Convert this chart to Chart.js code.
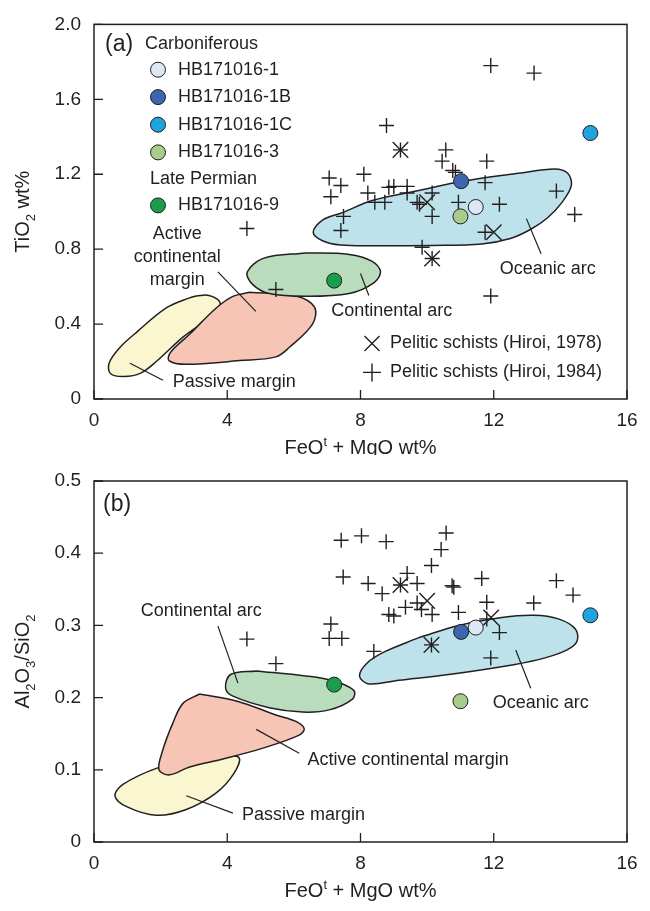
<!DOCTYPE html>
<html>
<head>
<meta charset="utf-8">
<script src="https://cdn.jsdelivr.net/npm/chart.js@4/dist/chart.umd.min.js"></script>
<style>
html, body { margin: 0; padding: 0; background: #fff; }
#wrapA { position: absolute; left: 0; top: 0; width: 650px; height: 455px; }
#wrapB { position: absolute; left: 0; top: 455px; width: 650px; height: 456px; }
</style>
</head>
<body>
<div id="wrapA"><canvas id="chartA"></canvas></div>
<div id="wrapB"><canvas id="chartB"></canvas></div>
<script>
// ---- data ----
var xTicks = [0, 4, 8, 12, 16];
var yTicksA = [0, 0.4, 0.8, 1.2, 1.6, 2.0];
var yTicksB = [0, 0.1, 0.2, 0.3, 0.4, 0.5];

var sampleNames = ['HB171016-1', 'HB171016-1B', 'HB171016-1C', 'HB171016-3', 'HB171016-9'];
var samplePeriods = ['Carboniferous', 'Carboniferous', 'Carboniferous', 'Carboniferous', 'Late Permian'];
var sampleColors = ['#dce8f4', '#3d66b0', '#1fa4dd', '#a7cc8c', '#1b9e4b'];
var sampleFeoMgo = [11.46, 11.02, 14.9, 11.0, 7.21];
var sampleTiO2 = [1.025, 1.163, 1.42, 0.975, 0.632];
var sampleAlSi = [0.297, 0.291, 0.314, 0.195, 0.218];

// Pelitic schists (Hiroi, 1978)
var hiroi1978A = [[9.2, 1.33], [10.0, 1.05], [12.0, 0.89], [10.15, 0.75]];
var hiroi1978B = [[9.2, 0.356], [10.0, 0.334], [11.92, 0.311], [10.13, 0.273]];

// Pelitic schists (Hiroi, 1984)
var hiroi1984A = [
  [11.91, 1.78], [13.21, 1.74], [8.78, 1.46], [9.2, 1.33], [10.56, 1.33], [10.45, 1.27],
  [11.79, 1.27], [10.77, 1.22], [10.85, 1.21], [7.06, 1.18], [7.41, 1.14], [8.1, 1.2],
  [7.11, 1.08], [8.22, 1.1], [8.85, 1.13], [9.0, 1.135], [9.4, 1.135], [9.4, 1.1],
  [8.43, 1.05], [8.73, 1.05], [11.74, 1.155], [13.88, 1.11], [10.15, 1.1], [9.7, 1.05],
  [9.77, 1.04], [10.94, 1.05], [12.17, 1.04], [7.49, 0.975], [7.41, 0.9], [10.15, 0.975],
  [14.43, 0.985], [11.74, 0.89], [9.85, 0.81], [10.15, 0.75], [4.59, 0.91], [5.46, 0.585],
  [11.91, 0.55]
];
var hiroi1984B = [
  [7.42, 0.418], [8.03, 0.424], [8.77, 0.416], [7.48, 0.367], [8.23, 0.358], [8.65, 0.344],
  [9.2, 0.356], [8.85, 0.315], [9.0, 0.313], [9.35, 0.325], [7.11, 0.302], [7.06, 0.282],
  [7.44, 0.282], [4.59, 0.281], [5.46, 0.247], [8.4, 0.264], [10.57, 0.428], [10.42, 0.405],
  [10.13, 0.383], [9.4, 0.372], [9.7, 0.358], [10.75, 0.355], [10.8, 0.353], [11.64, 0.365],
  [13.88, 0.362], [14.38, 0.342], [13.2, 0.331], [11.79, 0.332], [9.7, 0.331], [9.83, 0.322],
  [10.15, 0.315], [10.94, 0.318], [11.79, 0.309], [12.17, 0.29], [11.91, 0.255], [10.13, 0.273]
];

// tectonic setting fields (Bhatia 1983)
var oceanicA = [[9.85, 1.117], [11.04, 1.162], [12.74, 1.205], [13.83, 1.228], [14.22, 1.205], [14.33, 1.14],
  [14.05, 1.05], [13.6, 0.965], [13.1, 0.905], [12.5, 0.857], [11.64, 0.828], [10.15, 0.82], [8.5, 0.818],
  [7.4, 0.822], [6.86, 0.845], [6.58, 0.89], [6.86, 0.955], [7.46, 0.995], [8.35, 1.06], [9.85, 1.117]];
var continentalA = [[6.36, 0.78], [7.66, 0.772], [8.35, 0.735], [8.6, 0.68], [8.4, 0.62], [7.66, 0.563],
  [6.36, 0.548], [5.26, 0.563], [4.76, 0.612], [4.6, 0.678], [5.1, 0.752], [6.36, 0.78]];
var activeA = [[4.67, 0.57], [6.06, 0.55], [6.62, 0.49], [6.56, 0.4], [5.86, 0.275], [5.46, 0.225],
  [4.37, 0.205], [2.77, 0.185], [2.25, 0.205], [2.3, 0.25], [2.87, 0.346], [3.67, 0.486], [4.17, 0.548], [4.67, 0.57]];
var passiveA = [[3.07, 0.55], [3.45, 0.553], [3.77, 0.52], [3.72, 0.47], [2.67, 0.33], [1.87, 0.2],
  [1.4, 0.138], [0.9, 0.12], [0.5, 0.135], [0.45, 0.19], [0.75, 0.27], [1.3, 0.36], [2.17, 0.486], [2.87, 0.54], [3.07, 0.55]];

var oceanicB = [[9.75, 0.283], [10.95, 0.3], [12.24, 0.311], [13.2, 0.314], [13.94, 0.309], [14.45, 0.295],
  [14.5, 0.278], [14.2, 0.266], [13.54, 0.255], [12.64, 0.246], [10.65, 0.232], [9.15, 0.224], [8.25, 0.219],
  [7.97, 0.23], [8.2, 0.248], [8.7, 0.263], [9.75, 0.283]];
var continentalB = [[4.87, 0.237], [6.36, 0.23], [7.2, 0.223], [7.8, 0.21], [7.76, 0.198], [7.06, 0.183],
  [6.26, 0.18], [5.26, 0.186], [4.17, 0.202], [3.95, 0.213], [4.1, 0.232], [4.87, 0.237]];
var activeB = [[3.17, 0.205], [4.3, 0.195], [5.46, 0.176], [6.06, 0.167], [6.31, 0.157], [6.16, 0.148],
  [5.07, 0.13], [3.87, 0.115], [2.87, 0.104], [2.27, 0.093], [1.95, 0.1], [2.07, 0.128], [2.37, 0.165],
  [2.67, 0.192], [3.17, 0.205]];
var passiveB = [[2.87, 0.113], [3.8, 0.118], [4.35, 0.117], [4.2, 0.095], [3.67, 0.068], [2.77, 0.045],
  [1.87, 0.037], [0.98, 0.049], [0.63, 0.064], [0.88, 0.08], [1.87, 0.102], [2.87, 0.113]];

var regionColors = ['#bde2eb', '#b9dcbc', '#f6c5b6', '#faf7d0'];

// field labels and leader lines, in data units
var notesA = [
  { text: ['Oceanic arc'], x: 13.62, y: 0.695, line: [[12.98, 0.963], [13.42, 0.775]] },
  { text: ['Continental arc'], x: 8.94, y: 0.468, line: [[8.0, 0.67], [8.25, 0.553]] },
  { text: ['Active', 'continental', 'margin'], x: 2.5, y: 0.758, line: [[3.72, 0.679], [4.86, 0.468]] },
  { text: ['Passive margin'], x: 4.21, y: 0.091, line: [[1.08, 0.191], [2.07, 0.1]] }
];
var notesB = [
  { text: ['Oceanic arc'], x: 13.41, y: 0.193, line: [[12.66, 0.266], [13.11, 0.213]] },
  { text: ['Continental arc'], x: 3.22, y: 0.32, line: [[3.72, 0.299], [4.32, 0.22]] },
  { text: ['Active continental margin'], x: 9.43, y: 0.114, line: [[4.87, 0.156], [6.16, 0.123]] },
  { text: ['Passive margin'], x: 6.29, y: 0.0375, line: [[2.77, 0.064], [4.17, 0.04]] }
];

// ---- drawing ----
var INK = '#231f20';
var FONT = "'Liberation Sans', Arial, sans-serif";

function toXY(arr) { return arr.map(function (p) { return { x: p[0], y: p[1] }; }); }

// text with sub/superscripts; parts: [text, 'sub'|'sup'|undefined]
function richText(ctx, parts, cx, cy, size, rotate) {
  var small = Math.round(size * 0.65);
  ctx.save();
  ctx.translate(cx, cy);
  if (rotate) ctx.rotate(-Math.PI / 2);
  ctx.fillStyle = INK;
  ctx.textBaseline = 'alphabetic';
  ctx.textAlign = 'left';
  var total = 0;
  var widths = parts.map(function (p) {
    ctx.font = (p[1] ? small : size) + 'px ' + FONT;
    var w = ctx.measureText(p[0]).width;
    total += w;
    return w;
  });
  var x = -total / 2, base = size * 0.36;
  parts.forEach(function (p, i) {
    ctx.font = (p[1] ? small : size) + 'px ' + FONT;
    var dy = p[1] === 'sub' ? size * 0.28 : (p[1] === 'sup' ? -size * 0.42 : 0);
    ctx.fillText(p[0], x, base + dy);
    x += widths[i];
  });
  ctx.restore();
}

var framePlugin = {
  id: 'frame',
  afterDatasetsDraw: function (chart) {
    var ctx = chart.ctx, a = chart.chartArea, xs = chart.scales.x, ys = chart.scales.y;
    ctx.save();
    ctx.strokeStyle = INK;
    ctx.lineWidth = 1.5;
    ctx.strokeRect(a.left, a.top, a.right - a.left, a.bottom - a.top);
    ctx.lineWidth = 1.3;
    ctx.beginPath();
    xs.ticks.forEach(function (t) {
      var px = xs.getPixelForValue(t.value);
      ctx.moveTo(px, a.bottom); ctx.lineTo(px, a.bottom - 9);
    });
    ys.ticks.forEach(function (t) {
      var py = ys.getPixelForValue(t.value);
      ctx.moveTo(a.left, py); ctx.lineTo(a.left + 9, py);
    });
    ctx.stroke();
    ctx.restore();
  }
};

function notesPlugin(notes, xTitle, yTitle) {
  return {
    id: 'notes',
    afterDraw: function (chart) {
      var ctx = chart.ctx, a = chart.chartArea, xs = chart.scales.x, ys = chart.scales.y;
      ctx.save();
      ctx.strokeStyle = INK;
      ctx.lineWidth = 1.2;
      ctx.fillStyle = INK;
      ctx.font = '18px ' + FONT;
      ctx.textAlign = 'center';
      ctx.textBaseline = 'middle';
      notes.forEach(function (n) {
        ctx.beginPath();
        ctx.moveTo(xs.getPixelForValue(n.line[0][0]), ys.getPixelForValue(n.line[0][1]));
        ctx.lineTo(xs.getPixelForValue(n.line[1][0]), ys.getPixelForValue(n.line[1][1]));
        ctx.stroke();
        var cx = xs.getPixelForValue(n.x), cy = ys.getPixelForValue(n.y);
        var lh = 23, y0 = cy - (n.text.length - 1) * lh / 2;
        n.text.forEach(function (t, i) { ctx.fillText(t, cx, y0 + i * lh); });
      });
      ctx.restore();
      richText(ctx, xTitle, (a.left + a.right) / 2, a.bottom + 48, 20, false);
      richText(ctx, yTitle, 22, (a.top + a.bottom) / 2, 20, true);
    }
  };
}

function drawCross(ctx, x, y, h, rot) {
  ctx.beginPath();
  if (rot) {
    ctx.moveTo(x - h, y - h); ctx.lineTo(x + h, y + h);
    ctx.moveTo(x - h, y + h); ctx.lineTo(x + h, y - h);
  } else {
    ctx.moveTo(x - h, y); ctx.lineTo(x + h, y);
    ctx.moveTo(x, y - h); ctx.lineTo(x, y + h);
  }
  ctx.stroke();
}

var legendRowsA = [20, 45.3, 72.7, 100.3, 128, 154.7, 181];
var legendA = {
  id: 'legendA',
  afterDraw: function (chart) {
    var ctx = chart.ctx, a = chart.chartArea;
    ctx.save();
    ctx.fillStyle = INK;
    ctx.strokeStyle = INK;
    ctx.textAlign = 'left';
    ctx.textBaseline = 'middle';
    ctx.font = '23px ' + FONT;
    ctx.fillText('(a)', a.left + 11, a.top + 20);
    ctx.font = '18px ' + FONT;
    var row = 0, last = null;
    sampleNames.forEach(function (name, i) {
      if (samplePeriods[i] !== last) {
        last = samplePeriods[i];
        ctx.fillStyle = INK;
        ctx.fillText(last, a.left + (row === 0 ? 51 : 56), a.top + legendRowsA[row]);
        row++;
      }
      var y = a.top + legendRowsA[row];
      ctx.beginPath();
      ctx.arc(a.left + 64, y, 7.5, 0, Math.PI * 2);
      ctx.fillStyle = sampleColors[i];
      ctx.fill();
      ctx.lineWidth = 1;
      ctx.stroke();
      ctx.fillStyle = INK;
      ctx.fillText(name, a.left + 84, y);
      row++;
    });
    ctx.lineWidth = 1.4;
    drawCross(ctx, a.left + 278, a.top + 319, 7.5, true);
    ctx.fillText('Pelitic schists (Hiroi, 1978)', a.left + 296, a.top + 319);
    drawCross(ctx, a.left + 278, a.top + 348, 9, false);
    ctx.fillText('Pelitic schists (Hiroi, 1984)', a.left + 296, a.top + 348);
    ctx.restore();
  }
};

var legendB = {
  id: 'legendB',
  afterDraw: function (chart) {
    var ctx = chart.ctx, a = chart.chartArea;
    ctx.save();
    ctx.fillStyle = INK;
    ctx.textAlign = 'left';
    ctx.textBaseline = 'middle';
    ctx.font = '23px ' + FONT;
    ctx.fillText('(b)', a.left + 9, a.top + 24);
    ctx.restore();
  }
};

function buildPanel(canvasId, P) {
  var datasets = [];
  var regionNames = ['Oceanic arc', 'Continental arc', 'Active continental margin', 'Passive margin'];
  P.regions.forEach(function (pts, i) {
    datasets.push({
      type: 'line', label: regionNames[i], data: toXY(pts),
      backgroundColor: regionColors[i], borderColor: INK, borderWidth: 1.5,
      fill: 'shape', tension: 0.35, pointRadius: 0, order: 10 + (i === 2 ? 3 : i === 1 ? 2 : i === 0 ? 1 : 4)
    });
  });
  datasets.push({
    label: 'Pelitic schists (Hiroi, 1984)', data: toXY(P.plus),
    pointStyle: 'cross', pointRadius: 7.5, pointBorderColor: INK, pointBorderWidth: 1.4, order: 3
  });
  datasets.push({
    label: 'Pelitic schists (Hiroi, 1978)', data: toXY(P.xmark),
    pointStyle: 'crossRot', pointRadius: 11, pointBorderColor: INK, pointBorderWidth: 1.4, order: 2
  });
  sampleNames.forEach(function (name, i) {
    datasets.push({
      label: name, data: [{ x: sampleFeoMgo[i], y: P.sampleY[i] }],
      pointStyle: 'circle', pointRadius: 7.5, pointBackgroundColor: sampleColors[i],
      pointBorderColor: INK, pointBorderWidth: 1, order: 0
    });
  });

  return new Chart(document.getElementById(canvasId), {
    type: 'scatter',
    data: { datasets: datasets },
    options: {
      animation: false,
      responsive: true,
      maintainAspectRatio: false,
      events: [],
      layout: { padding: { top: P.padTop, right: 23, left: 0, bottom: 0 } },
      plugins: { legend: { display: false }, tooltip: { enabled: false } },
      scales: {
        x: {
          type: 'linear', min: 0, max: 16,
          afterBuildTicks: function (s) { s.ticks = xTicks.map(function (v) { return { value: v }; }); },
          afterFit: function (s) { s.height = P.xAxisHeight; },
          grid: { display: false, drawTicks: false },
          border: { display: false },
          ticks: { color: INK, font: { family: FONT, size: 19 }, padding: 10, maxRotation: 0,
            callback: function (v) { return String(v); } }
        },
        y: {
          type: 'linear', min: 0, max: P.yMax,
          afterBuildTicks: function (s) { s.ticks = P.yTicks.map(function (v) { return { value: v }; }); },
          afterFit: function (s) { s.width = 94; },
          grid: { display: false, drawTicks: false },
          border: { display: false },
          ticks: { color: INK, font: { family: FONT, size: 19 }, padding: 13,
            callback: function (v) { return v === 0 ? '0' : v.toFixed(1); } }
        }
      }
    },
    plugins: [
      { id: 'whiteBg', beforeDraw: function (c) { var ctx = c.ctx; ctx.save(); ctx.fillStyle = '#fff'; ctx.fillRect(0, 0, c.width, c.height); ctx.restore(); } },
      framePlugin, notesPlugin(P.notes, P.xTitle, P.yTitle), P.legend
    ]
  });
}

var xTitleParts = [['FeO'], ['t', 'sup'], [' + MgO wt%']];

buildPanel('chartA', {
  regions: [oceanicA, continentalA, activeA, passiveA],
  plus: hiroi1984A, xmark: hiroi1978A, sampleY: sampleTiO2,
  yMax: 2.0, yTicks: yTicksA, padTop: 18, xAxisHeight: 56,
  notes: notesA, legend: legendA,
  xTitle: xTitleParts, yTitle: [['TiO'], ['2', 'sub'], [' wt%']]
});

buildPanel('chartB', {
  regions: [oceanicB, continentalB, activeB, passiveB],
  plus: hiroi1984B, xmark: hiroi1978B, sampleY: sampleAlSi,
  yMax: 0.5, yTicks: yTicksB, padTop: 26, xAxisHeight: 69,
  notes: notesB, legend: legendB,
  xTitle: xTitleParts, yTitle: [['Al'], ['2', 'sub'], ['O'], ['3', 'sub'], ['/SiO'], ['2', 'sub']]
});
</script>
</body>
</html>
